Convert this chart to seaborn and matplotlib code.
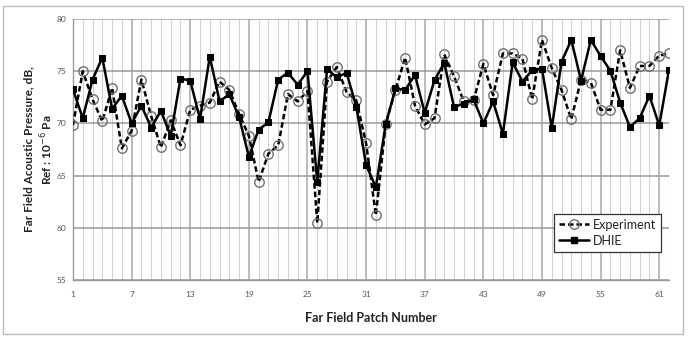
import matplotlib
matplotlib.use("Agg")
import matplotlib.pyplot as plt
from matplotlib.lines import Line2D
from matplotlib.patches import Rectangle
import seaborn as sns
import pandas as pd

patch = list(range(1, 63))
experiment = [69.85, 75.0, 72.3, 70.2, 73.4, 67.6, 69.3, 74.2, 70.7, 67.7,
              70.3, 67.9, 71.3, 71.7, 72.0, 74.0, 73.2, 70.9, 68.8, 64.4,
              67.1, 67.9, 72.8, 72.1, 73.1, 60.45, 74.0, 75.4, 73.0, 72.2,
              68.1, 61.2, 69.9, 73.2, 76.3, 71.7, 69.9, 70.5, 76.6, 74.5,
              72.1, 72.2, 75.7, 72.7, 76.7, 76.7, 76.2, 72.3, 78.0, 75.3,
              73.2, 70.4, 74.2, 73.9, 71.3, 71.3, 77.0, 73.4, 75.5, 75.5,
              76.5, 76.7]
dhie = [73.25, 70.5, 74.2, 76.3, 71.4, 72.65, 70.0, 71.7, 69.6, 71.2,
        68.8, 74.3, 74.1, 70.4, 76.4, 72.1, 72.8, 70.6, 66.8, 69.4,
        70.1, 74.2, 74.85, 73.7, 75.0, 64.4, 75.2, 74.4, 74.85, 71.6,
        66.0, 63.9, 69.9, 73.35, 73.2, 74.65, 71.0, 74.15, 75.8, 71.55,
        71.9, 72.3, 70.0, 72.1, 69.0, 75.85, 74.0, 75.1, 75.25, 69.55,
        75.9, 78.0, 74.1, 78.0, 76.45, 75.05, 72.0, 69.65, 70.5, 72.65,
        69.8, 75.15]
x_ticks = [1, 7, 13, 19, 25, 31, 37, 43, 49, 55, 61]
y_ticks = [55, 60, 65, 70, 75, 80]
series_names = ["Experiment", "DHIE"]

df = pd.DataFrame({"patch": patch, "Experiment": experiment, "DHIE": dhie})

sns.set_style("white")
plt.rcParams["font.family"] = ["Lato", "DejaVu Sans"]

fig = plt.figure(figsize=(6.88, 3.38), dpi=100)
ax = fig.add_axes([73/688, 1-280/338, (669-73)/688, (280-19)/338])

# gridlines
for xv in range(1, 63):
    major = xv in x_ticks
    ax.axvline(xv, color="#a8a8a8" if major else "#d2d2d2",
               lw=1.1 if major else 0.8, zorder=0)
for yv in y_ticks:
    ax.axhline(yv, color="#9a9a9a", lw=1.1, zorder=0)

sns.lineplot(data=df, x="patch", y="Experiment", ax=ax, color="black",
             lw=1.8, dashes=False, marker="o", markersize=6.8,
             markerfacecolor="none", markeredgecolor="#707070",
             markeredgewidth=1.0, zorder=3)
sns.lineplot(data=df, x="patch", y="DHIE", ax=ax, color="black",
             lw=1.8, marker="s", markersize=4.6, markerfacecolor="black",
             markeredgecolor="black", zorder=4)
ax.lines[-2].set_linestyle((0, (2.2, 1.2)))

ax.set_xlim(1, 62)
ax.set_ylim(55, 80)
ax.set_xticks(x_ticks)
ax.set_yticks(y_ticks)
ax.tick_params(axis="both", labelsize=6, colors="#555555", length=3,
               width=0.8, direction="out", pad=5)
ax.tick_params(axis="y", pad=2)
for s in ["top", "right"]:
    ax.spines[s].set_visible(False)
for s in ["left", "bottom"]:
    ax.spines[s].set_color("#9a9a9a")
    ax.spines[s].set_linewidth(1.0)

ax.set_xlabel("Far Field Patch Number", fontsize=9, fontweight="bold",
              color="#222222", labelpad=10)
ax.set_ylabel("Far Field Acoustic Pressure, dB,\nRef : 10$^{-6}$ Pa",
              fontsize=8.5, fontweight="bold", color="#222222",
              linespacing=1.3)
ax.yaxis.set_label_coords(-0.03, 0.5)

handles = [
    Line2D([], [], color="black", lw=1.8, ls=(0, (2.2, 1.2)), marker="o",
           markersize=6.8, markerfacecolor="none", markeredgecolor="#707070"),
    Line2D([], [], color="black", lw=1.8, marker="s", markersize=4.6,
           markerfacecolor="black"),
]
leg = ax.legend(handles, series_names, loc="lower right",
                bbox_to_anchor=(0.997, 0.085), fontsize=9, frameon=True,
                fancybox=False, edgecolor="#333333", handlelength=2.4,
                handletextpad=0.3, borderpad=0.4, labelspacing=0.3,
                framealpha=1)
leg.get_frame().set_linewidth(0.9)
for t in leg.get_texts():
    t.set_color("#222222")

fig.patches.append(Rectangle((3/688, 1-334/338), 680/688, 328/338,
                             transform=fig.transFigure, fill=False,
                             edgecolor="#bbbbbb", lw=1.0))

fig.savefig("out.png", dpi=100)
